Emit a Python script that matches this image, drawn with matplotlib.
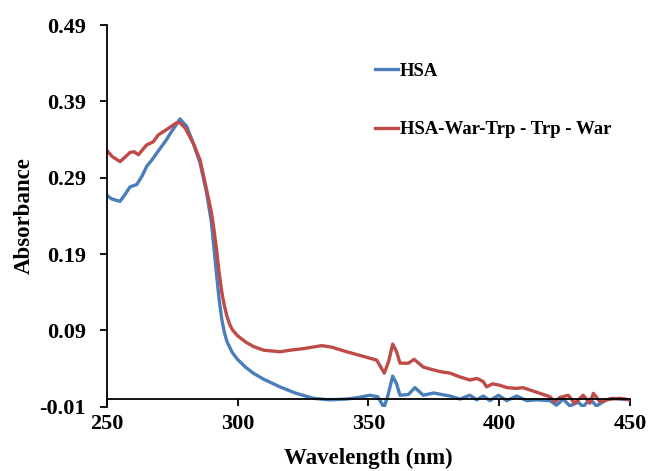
import numpy as np
import matplotlib.pyplot as plt

plt.rcParams['font.family'] = ['Liberation Serif', 'DejaVu Serif']
plt.rcParams['font.weight'] = 'bold'

# data
wl_hsa = [250, 252, 255.1, 257, 258.9, 261.5, 263.5, 265.3, 267, 269.1, 271, 272.9, 274.5, 276.1,
          278, 280.6, 283.1, 285.7, 288.2, 290, 291, 292, 293, 294, 295, 296, 298, 300, 303,
          306, 310, 316.2, 322, 329, 335, 341.7, 346, 350.6, 353.6, 356, 357.5, 359.3, 360.8,
          362.1, 365.3, 367.8, 371, 375, 378, 381.2, 385, 388.8, 391.4, 393.9, 396.5, 399.7,
          402.9, 406.7, 410.5, 414.3, 419.4, 421.9, 424.5, 427, 430.2, 432.1, 434.7, 437.2,
          441, 443.5, 446.2, 450]
abs_hsa = [0.267, 0.262, 0.259, 0.268, 0.278, 0.281, 0.292, 0.305, 0.312, 0.322, 0.331, 0.340,
           0.349, 0.357, 0.367, 0.357, 0.335, 0.309, 0.270, 0.232, 0.198, 0.163, 0.130, 0.104,
           0.087, 0.075, 0.061, 0.052, 0.042, 0.034, 0.026, 0.016, 0.008, 0.001, -0.001, 0.000,
           0.002, 0.005, 0.003, -0.011, 0.005, 0.030, 0.020, 0.005, 0.006, 0.015, 0.005, 0.008,
           0.006, 0.004, 0.000, 0.005, -0.001, 0.004, -0.002, 0.005, -0.002, 0.004, -0.002,
           -0.001, -0.002, -0.008, 0.000, -0.009, -0.004, -0.010, 0.000, -0.009, -0.001, 0.001,
           0.000, -0.001]

wl_war = [250, 252, 255.1, 257, 258.9, 260.5, 262.1, 263.8, 265.3, 267.8, 269.7, 272.9, 276.7,
          278, 280, 283.1, 285.7, 288.2, 290, 291, 292, 293, 294, 295, 296, 297, 298, 300, 303,
          306, 310, 316.2, 320, 325, 332.2, 336, 341.7, 347, 353.2, 356.1, 357.8, 359.3, 360.8,
          362.1, 365.3, 367.5, 371, 374, 377.4, 381.2, 385, 388.8, 391.5, 393.9, 395.2, 397.5,
          400.3, 403, 406.7, 409, 411.7, 415.6, 419.4, 421.3, 423.2, 426.4, 428.9, 432.1, 434.7,
          436, 438.5, 442.3, 446.2, 450]
abs_war = [0.326, 0.318, 0.311, 0.317, 0.323, 0.324, 0.320, 0.327, 0.333, 0.337, 0.346, 0.353,
           0.362, 0.362, 0.355, 0.335, 0.313, 0.274, 0.245, 0.222, 0.195, 0.165, 0.140, 0.122,
           0.108, 0.098, 0.091, 0.083, 0.075, 0.069, 0.064, 0.062, 0.064, 0.066, 0.070, 0.068,
           0.062, 0.057, 0.051, 0.034, 0.050, 0.072, 0.062, 0.047, 0.047, 0.052, 0.042, 0.039,
           0.036, 0.034, 0.029, 0.025, 0.027, 0.023, 0.016, 0.020, 0.018, 0.015, 0.014, 0.015,
           0.012, 0.0075, 0.003, -0.0035, 0.002, 0.005, -0.0055, 0.005, -0.0055, 0.0075,
           -0.0035, 0.0, 0.001, -0.001]

fig = plt.figure(figsize=(6.49, 4.71), dpi=100)
ax = fig.add_axes([0.1644, 0.1365, 0.8063, 0.8104])

ax.plot(wl_hsa, abs_hsa, color='#4A7EBB', lw=2.4, label='HSA')
ax.plot(wl_war, abs_war, color='#BE4B48', lw=2.4, label='HSA-War-Trp - Trp - War')

ax.set_xlim(250, 450)
ax.set_ylim(-0.01, 0.49)
ax.set_xticks([250, 300, 350, 400, 450])
ax.set_yticks([-0.01, 0.09, 0.19, 0.29, 0.39, 0.49])
ax.set_yticklabels(['-0.01', '0.09', '0.19', '0.29', '0.39', '0.49'])

# x axis crosses at zero, no box
ax.spines['top'].set_visible(False)
ax.spines['right'].set_visible(False)
ax.spines['bottom'].set_position(('data', 0))
ax.spines['bottom'].set_linewidth(1.3)
ax.spines['left'].set_linewidth(1.3)
ax.tick_params(direction='out', length=5, width=1.3, labelsize=16)
ax.tick_params(axis='x', pad=6)
ax.tick_params(axis='y', pad=10)

ax.set_xlabel('Wavelength (nm)', fontsize=16.5, fontweight='bold', labelpad=10)
ax.set_ylabel('Absorbance', fontsize=16.5, fontweight='bold', labelpad=3)

fig.legend(loc='upper left', bbox_to_anchor=(0.5626, 0.887), frameon=False,
           prop={'size': 13.5, 'weight': 'bold'}, handlelength=1.25, handletextpad=0.1,
           labelspacing=2.2, borderpad=0)

fig.savefig('out.png', dpi=100)
